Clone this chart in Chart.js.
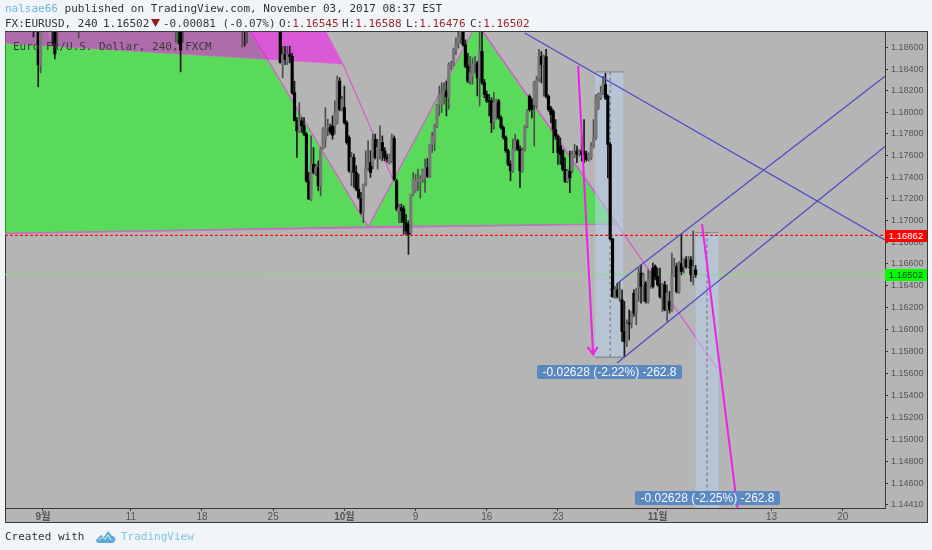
<!DOCTYPE html>
<html><head><meta charset="utf-8">
<style>
html,body{margin:0;padding:0;background:#f1f5f9;width:932px;height:550px;overflow:hidden}
.t{position:absolute;white-space:pre;font:11px/14px "DejaVu Sans Mono",monospace;color:#333;z-index:3}
.r{color:#9c2626}
#frame{position:absolute;left:5px;top:31px;width:921px;height:490px;background:#b5b5b5;border:1px solid #3a3a3a;z-index:0}
canvas{position:absolute;left:0;top:0;z-index:1}
.tag{position:absolute;background:#5c88c0;color:#f4f8ff;border-radius:2px;font:12px/14px "Liberation Sans",sans-serif;text-align:center;z-index:3}
.px{position:absolute;left:885px;width:42px;font:9.5px/12px "Liberation Sans",sans-serif;text-align:center;z-index:3}
</style>
<script src="https://cdn.jsdelivr.net/npm/chart.js@4"></script>
</head><body>
<div id="frame"></div>
<canvas id="c" width="932" height="550"></canvas>
<div class="t" style="left:5px;top:2px"><span style="color:#6ab7dc">nalsae66</span> published on TradingView.com, November 03, 2017 08:37 EST</div>
<div class="t" style="left:5px;top:17px">FX:EURUSD, 240</div>
<div class="t" style="left:103px;top:17px">1.16502</div>
<svg style="position:absolute;left:151px;top:19px;z-index:3" width="10" height="9"><polygon points="0,0 9,0 4.5,8" fill="#9c1a1a"/></svg>
<div class="t" style="left:163px;top:17px">-0.00081 (-0.07%)</div>
<div class="t" style="left:279px;top:17px">O:<span class="r">1.16545</span></div>
<div class="t" style="left:342px;top:17px">H:<span class="r">1.16588</span></div>
<div class="t" style="left:406px;top:17px">L:<span class="r">1.16476</span></div>
<div class="t" style="left:470px;top:17px">C:<span class="r">1.16502</span></div>
<div class="t" style="left:13px;top:40px;color:#3a3a3a">Euro Fx/U.S. Dollar, 240, FXCM</div>
<div class="tag" style="left:537px;top:365px;width:145px;height:14px">-0.02628 (-2.22%) -262.8</div>
<div class="tag" style="left:635px;top:491px;width:145px;height:14px">-0.02628 (-2.25%) -262.8</div>
<div class="px" style="top:230px;height:12px;background:#f00;color:#fff">1.16862</div>
<div class="px" style="top:269px;height:12px;background:#0f0;color:#1c4a1c">1.16502</div>
<div class="t" style="left:5px;top:530px">Created with</div>
<svg style="position:absolute;left:96px;top:530px;z-index:3" width="20" height="13"><path d="M0,10 L5,5 L8,7 L12,1 L16,6 C19,6 20,9 19,11 C18,13 16,13 15,13 L3,13 C1,13 0,12 0,10 Z" fill="#5aa9d6"/><path d="M3,10 L6.500,7 L9,9 L12,5 L15,10" fill="none" stroke="#f1f5f9" stroke-width="1"/></svg>
<div class="t" style="left:121px;top:530px;color:#7cc5da">TradingView</div>
<script>
// --- axis labels ---
const priceTicks=[1.186,1.184,1.182,1.18,1.178,1.176,1.174,1.172,1.17,1.168,1.166,1.164,1.162,1.16,1.158,1.156,1.154,1.152,1.15,1.148,1.146,1.1441];
const timeTickBars=[0,37,67,97,127,157,187,217,259,307,337];
const timeTickLabels=["9월","11","18","25","10월","9","16","23","11월","13","20"];
const xMin=-16,xMax=354.8,yMin=1.14383,yMax=1.18747;
// --- candles mostly above the visible range ---
const earlyBars=[-4,-2,-1,4,5,6,15,56,57,58,59,84,85,86];
const earlyO=[1.188,1.189,1.1844,1.189,1.189,1.188,1.1885,1.1885,1.1892,1.1895,1.1885,1.1885,1.189,1.1885];
const earlyH=[1.1885,1.1895,1.189,1.1895,1.1895,1.1895,1.1895,1.1895,1.1895,1.19,1.1895,1.1895,1.1895,1.1895];
const earlyL=[1.18699,1.18236,1.18366,1.18625,1.18495,1.18606,1.1869,1.18653,1.18634,1.18375,1.18653,1.18606,1.18616,1.18643];
const earlyC=[1.1878,1.1844,1.1885,1.188,1.18542,1.189,1.189,1.1892,1.1885,1.18579,1.1892,1.189,1.1885,1.189];
// --- candles, bar 100 onward ---
const firstBar=100;
const opens=[1.18828,1.18443,1.18536,1.18474,1.18536,1.1852,1.18182,1.1792,1.17827,1.1792,
1.17874,1.17797,1.17365,1.17196,1.17519,1.17442,1.17489,1.17319,1.17658,1.1775,
1.17858,1.17858,1.17874,1.17874,1.17904,1.18289,1.18028,1.18043,1.17904,1.17766,
1.17458,1.17581,1.17442,1.17288,1.17202,1.17073,1.17335,1.17489,1.17535,1.17504,
1.1775,1.17581,1.17658,1.1772,1.17643,1.17581,1.17535,1.1755,1.17757,1.17365,
1.17088,1.17119,1.17104,1.1698,1.16965,1.16888,1.17242,1.17273,1.17365,1.17359,
1.17381,1.17396,1.17489,1.17396,1.17704,1.1772,1.17874,1.18074,1.18074,1.18182,
1.18197,1.18135,1.18443,1.18443,1.18582,1.18644,1.18705,1.18767,1.18628,1.18428,
1.18289,1.18336,1.18443,1.18459,1.1832,1.18567,1.18274,1.18166,1.18105,1.18105,
1.17904,1.18089,1.18105,1.17951,1.17858,1.17766,1.17643,1.17519,1.17458,1.17658,
1.17735,1.17658,1.17458,1.17655,1.17864,1.18148,1.18117,1.18071,1.18055,1.18317,
1.18517,1.1844,1.18517,1.18148,1.1804,1.18009,1.1784,1.17778,1.17686,1.1764,
1.1747,1.17362,1.17455,1.17455,1.17593,1.1764,1.17609,1.1764,1.1764,1.17609,
1.17563,1.17578,1.17686,1.17763,1.1804,1.18132,1.18179,1.18256,1.18148,1.17701,
1.1683,1.16302,1.16363,1.16302,1.16272,1.15982,1.15891,1.16058,1.16058,1.16333,
1.1615,1.16394,1.16516,1.16394,1.16424,1.16257,1.16409,1.16562,1.16577,1.16485,
1.16409,1.16302,1.16409,1.1618,1.16257,1.1618,1.165,1.16577,1.16348,1.16607,
1.16577,1.16638,1.16577,1.16638,1.165,1.16545];
const highs=[1.18859,1.18613,1.18613,1.18613,1.18613,1.18551,1.18289,1.17951,1.18089,1.17951,
1.17951,1.17812,1.17442,1.17781,1.17673,1.17519,1.1755,1.17673,1.17858,1.18043,
1.17935,1.17889,1.17966,1.18105,1.18336,1.1832,1.18151,1.18243,1.1792,1.17781,
1.17627,1.17612,1.17504,1.17427,1.17258,1.17335,1.17643,1.17735,1.17643,1.17797,
1.17797,1.1775,1.17874,1.17781,1.17673,1.17612,1.17612,1.17797,1.17781,1.17381,
1.1715,1.1715,1.17134,1.17057,1.16996,1.17242,1.17442,1.17427,1.17473,1.17412,
1.17473,1.17566,1.17572,1.17704,1.17812,1.17889,1.18074,1.18243,1.18274,1.18274,
1.18289,1.18459,1.18474,1.18597,1.1869,1.18751,1.18798,1.18828,1.18674,1.18551,
1.1852,1.18505,1.1852,1.18474,1.18767,1.18798,1.18305,1.18197,1.18166,1.18135,
1.18182,1.1812,1.1812,1.17966,1.17874,1.17781,1.17658,1.1755,1.1775,1.17797,
1.1775,1.17689,1.17673,1.17877,1.18025,1.18163,1.18132,1.18286,1.18333,1.18585,
1.18564,1.18533,1.18585,1.18163,1.18055,1.18025,1.17932,1.17793,1.17763,1.17655,
1.17578,1.1747,1.1764,1.1764,1.17701,1.17686,1.17655,1.17778,1.17932,1.1764,
1.17624,1.17717,1.17932,1.18163,1.18179,1.1824,1.18333,1.18363,1.18163,1.1772,
1.16836,1.16394,1.16424,1.1644,1.16363,1.16257,1.16089,1.1618,1.16165,1.16363,
1.16379,1.16562,1.16592,1.16516,1.1644,1.16546,1.16531,1.16607,1.16592,1.16562,
1.16562,1.16424,1.1644,1.16409,1.16348,1.16699,1.16653,1.16607,1.16622,1.16873,
1.16653,1.16668,1.16668,1.16668,1.16903,1.16588];
const lows=[1.18459,1.1832,1.18443,1.18443,1.18459,1.18166,1.1792,1.17581,1.17812,1.17812,
1.17781,1.1735,1.17196,1.17181,1.17427,1.17412,1.17273,1.17227,1.17658,1.17673,
1.17781,1.17797,1.1775,1.17797,1.17889,1.18012,1.18012,1.17889,1.17704,1.17442,
1.17319,1.17304,1.17273,1.17196,1.17057,1.1698,1.17319,1.17458,1.17396,1.17473,
1.17566,1.17473,1.17566,1.1755,1.1755,1.17535,1.17519,1.17535,1.17365,1.17088,
1.1698,1.1698,1.16873,1.16873,1.16688,1.16873,1.17227,1.17258,1.17273,1.17205,
1.1735,1.17258,1.17396,1.17396,1.17627,1.17643,1.17858,1.17966,1.17997,1.18074,
1.17966,1.18028,1.18397,1.18428,1.18536,1.18597,1.18644,1.18613,1.18413,1.18274,
1.18259,1.18259,1.18366,1.18151,1.18058,1.18259,1.18135,1.18089,1.17966,1.17812,
1.17843,1.17935,1.17935,1.17843,1.1775,1.17627,1.17504,1.17365,1.17442,1.17643,
1.17643,1.17304,1.17442,1.1764,1.17855,1.18009,1.17948,1.17686,1.1804,1.18286,
1.18271,1.18148,1.18132,1.18009,1.17901,1.17624,1.17747,1.17516,1.17516,1.17455,
1.17347,1.17347,1.17255,1.17439,1.17578,1.17532,1.17593,1.17547,1.17532,1.17547,
1.17547,1.17563,1.1767,1.17747,1.18025,1.18117,1.18163,1.18117,1.17393,1.1682,
1.16293,1.16287,1.16287,1.16257,1.15891,1.15753,1.15845,1.15906,1.16013,1.16119,
1.16043,1.16257,1.16241,1.16257,1.16241,1.16241,1.16378,1.16378,1.16455,1.16394,
1.16287,1.16165,1.16171,1.16074,1.1615,1.16165,1.16485,1.16333,1.16333,1.165,
1.16516,1.16562,1.16562,1.1644,1.16409,1.16476];
const closes=[1.18459,1.18536,1.1849,1.18536,1.1852,1.18182,1.1792,1.17827,1.1792,1.17874,
1.17797,1.17365,1.17196,1.17519,1.17442,1.17489,1.17319,1.17658,1.17843,1.17858,
1.17864,1.17818,1.17787,1.18007,1.18305,1.18028,1.1812,1.17904,1.1772,1.17458,
1.17581,1.17442,1.17288,1.17211,1.17073,1.17335,1.17489,1.17535,1.17442,1.1775,
1.17581,1.17673,1.17735,1.17643,1.17581,1.17566,1.17581,1.17757,1.17381,1.17104,
1.17119,1.17088,1.1698,1.16903,1.16873,1.17242,1.17381,1.17365,1.17365,1.17381,
1.17473,1.17489,1.17405,1.17704,1.17781,1.17874,1.18058,1.18166,1.18182,1.18197,
1.18142,1.18443,1.18443,1.18582,1.18644,1.18705,1.18767,1.18628,1.18428,1.18289,
1.18366,1.18443,1.18459,1.1832,1.18567,1.18274,1.18166,1.18105,1.18098,1.17904,
1.18089,1.18105,1.17951,1.17858,1.17766,1.17643,1.17519,1.17458,1.17658,1.17735,
1.17658,1.17458,1.17643,1.17864,1.18009,1.18025,1.18025,1.18271,1.18302,1.18517,
1.1844,1.18517,1.18148,1.18025,1.17978,1.1784,1.17778,1.17624,1.17609,1.1747,
1.17362,1.17455,1.17393,1.17609,1.17624,1.17609,1.1764,1.17609,1.17609,1.17563,
1.17609,1.17686,1.17763,1.18132,1.18163,1.18179,1.18271,1.18132,1.17701,1.1683,
1.16302,1.16363,1.16302,1.16363,1.15982,1.15891,1.16058,1.16052,1.16165,1.1615,
1.16348,1.16516,1.16394,1.165,1.16257,1.16455,1.16516,1.16394,1.16485,1.16409,
1.16302,1.16409,1.1618,1.16333,1.1618,1.165,1.16577,1.16348,1.16607,1.16531,
1.16638,1.16577,1.16638,1.165,1.16577,1.16502];
// --- harmonic pattern polygons ---
const greenLeftBars=[-30,137,84.7,-30,-30],greenLeftPrices=[1.16876,1.1694,1.18856,1.18856,1.16876];
const greenRightBars=[137,182.9,241.9,137],greenRightPrices=[1.1694,1.18829,1.16967,1.1694];
const magentaBars=[-30,126.4,116.7,59,56.9,55.2,3.8,2.95,2.1,-30,-30];
const magentaPrices=[1.18662,1.18449,1.18856,1.18856,1.18579,1.18856,1.18856,1.18653,1.18856,1.18856,1.18662];
// --- trend lines ---
const pinkBaseBars=[-30,241.9],pinkBasePrices=[1.16876,1.16967];
const pinkLegBars=[182.9,284],pinkLegPrices=[1.18829,1.1565];
const pinkInnerBars=[126.4,147.5],pinkInnerPrices=[1.18449,1.17376];
const channelTopBars=[203,354.8],channelTopPrices=[1.18737,1.1682];
const channelUpBars=[242.3,354.8],channelUpPrices=[1.16427,1.18335];
const channelLowBars=[241.9,354.8],channelLowPrices=[1.15695,1.17682];
const lastPrice=1.16502,markedPrice=1.16862;
// --- projection boxes and arrows ---
const box1Bars=[232.7,244.5,244.5,232.7,232.7],box1Prices=[1.18375,1.18375,1.15747,1.15747,1.18375];
const box2Bars=[275,284.7,284.7,275,275],box2Prices=[1.16888,1.16888,1.1426,1.1426,1.16888];
const box1MidBars=[239,239],box1MidPrices=[1.18375,1.15747];
const box2MidBars=[279.8,279.8],box2MidPrices=[1.16888,1.1426];
const arrow1Bars=[225.5,231.8,229.5,231.8,233.7],arrow1Prices=[1.18431,1.15777,1.1584,1.15777,1.1584];
const arrow2Bars=[277.7,292.5,290.5,292.5,294.5],arrow2Prices=[1.16967,1.14400,1.14475,1.14400,1.14475];

function poly(xs,ys,o){return Object.assign({type:'line',data:xs.map((x,i)=>({x,y:ys[i]})),pointRadius:0,tension:0,fill:false,borderWidth:1.2},o);}
const bars=[],O=[],H=[],L=[],C=[];
earlyBars.forEach((b,i)=>{bars.push(b);O.push(earlyO[i]);H.push(earlyH[i]);L.push(earlyL[i]);C.push(earlyC[i]);});
opens.forEach((v,i)=>{bars.push(firstBar+i);O.push(v);H.push(highs[i]);L.push(lows[i]);C.push(closes[i]);});
const isUp=O.map((v,i)=>C[i]>=v);
const pink='#d958d2';
const datasets=[
 poly(greenLeftBars,greenLeftPrices,{fill:'shape',backgroundColor:'rgba(0,255,0,0.5)',borderColor:pink,order:20}),
 poly(greenRightBars,greenRightPrices,{fill:'shape',backgroundColor:'rgba(0,255,0,0.5)',borderColor:pink,order:19}),
 poly(magentaBars,magentaPrices,{fill:'shape',backgroundColor:'rgba(255,0,250,0.505)',borderColor:'rgba(217,95,210,0.6)',order:18}),
 poly(pinkBaseBars,pinkBasePrices,{borderColor:'#b77ab8',order:17}),
 poly(pinkLegBars,pinkLegPrices,{borderColor:pink,order:17}),
 poly(pinkInnerBars,pinkInnerPrices,{borderColor:pink,order:17}),
 poly(box1Bars,box1Prices,{fill:'shape',backgroundColor:'rgba(186,212,243,0.5)',borderColor:'rgba(0,0,0,0)',order:15}),
 poly(box2Bars,box2Prices,{fill:'shape',backgroundColor:'rgba(186,212,243,0.5)',borderColor:'rgba(0,0,0,0)',order:15}),
 poly([232.7,244.5],[1.18375,1.18375],{borderColor:'#8c8c8c',order:14}),
 poly([232.7,244.5],[1.15747,1.15747],{borderColor:'#8c8c8c',borderWidth:1.5,order:14}),
 poly([275,284.7],[1.16888,1.16888],{borderColor:'#8c8c8c',order:14}),
 poly(box1MidBars,box1MidPrices,{borderColor:'#6c6c78',borderWidth:1,borderDash:[3,3],order:13}),
 poly(box2MidBars,box2MidPrices,{borderColor:'#6c6c78',borderWidth:1,borderDash:[3,3],order:13}),
 poly([xMin,xMax],[lastPrice,lastPrice],{borderColor:'#7fe07f',borderWidth:1,order:12}),
 poly([xMin,xMax],[markedPrice,markedPrice],{borderColor:'#ff1010',borderDash:[3,2],borderWidth:1.4,order:11}),
 {type:'bar',data:bars.map((b,i)=>({x:b,y:[L[i],H[i]]})),backgroundColor:isUp.map(u=>u?'#4e4e4e':'#1a1a1a'),barThickness:1,grouped:false,order:10},
 {type:'bar',data:bars.map((b,i)=>({x:b,y:[O[i],C[i]]})),backgroundColor:isUp.map(u=>u?'#787878':'#000000'),barThickness:2.5,minBarLength:1,grouped:false,order:9},
 poly(channelTopBars,channelTopPrices,{borderColor:'#4b4bc4',order:5}),
 poly(channelUpBars,channelUpPrices,{borderColor:'#4b4bc4',order:5}),
 poly(channelLowBars,channelLowPrices,{borderColor:'#4b4bc4',order:5}),
 poly(arrow1Bars,arrow1Prices,{borderColor:'#ee22e6',borderWidth:2,order:4}),
 poly(arrow2Bars,arrow2Prices,{borderColor:'#ee22e6',borderWidth:2,order:4})
];
new Chart(document.getElementById('c'),{
 type:'bar',
 data:{datasets},
 options:{
  responsive:false,animation:false,events:[],
  layout:{padding:{left:5,right:5,top:32,bottom:28}},
  plugins:{legend:{display:false},tooltip:{enabled:false}},
  scales:{
   x:{type:'linear',min:xMin,max:xMax,offset:false,
    grid:{drawOnChartArea:false,offset:false,color:'#3a3a3a',tickLength:3},
    border:{color:'#3a3a3a'},
    afterBuildTicks(s){s.ticks=timeTickBars.map(v=>({value:v}));},
    afterFit(s){s.height=14;},
    ticks:{autoSkip:false,maxRotation:0,padding:0,color:'#555',
      font:c=>({family:'"Liberation Sans","Noto Sans CJK KR",sans-serif',size:10,weight:(timeTickLabels[c.index]||'').includes('월')?'bold':'normal'}),
      callback:(v,i)=>timeTickLabels[i]}
   },
   y:{type:'logarithmic',position:'right',min:yMin,max:yMax,
    grid:{drawOnChartArea:false,color:'#3a3a3a',tickLength:3},
    border:{color:'#3a3a3a'},
    afterBuildTicks(s){s.ticks=priceTicks.map(v=>({value:v}));},
    afterFit(s){s.width=42;},
    ticks:{autoSkip:false,padding:3,color:'#555',font:{family:'"Liberation Sans",sans-serif',size:9},callback:v=>v.toFixed(5)}
   }
  }
 }
});
</script>
</body></html>
